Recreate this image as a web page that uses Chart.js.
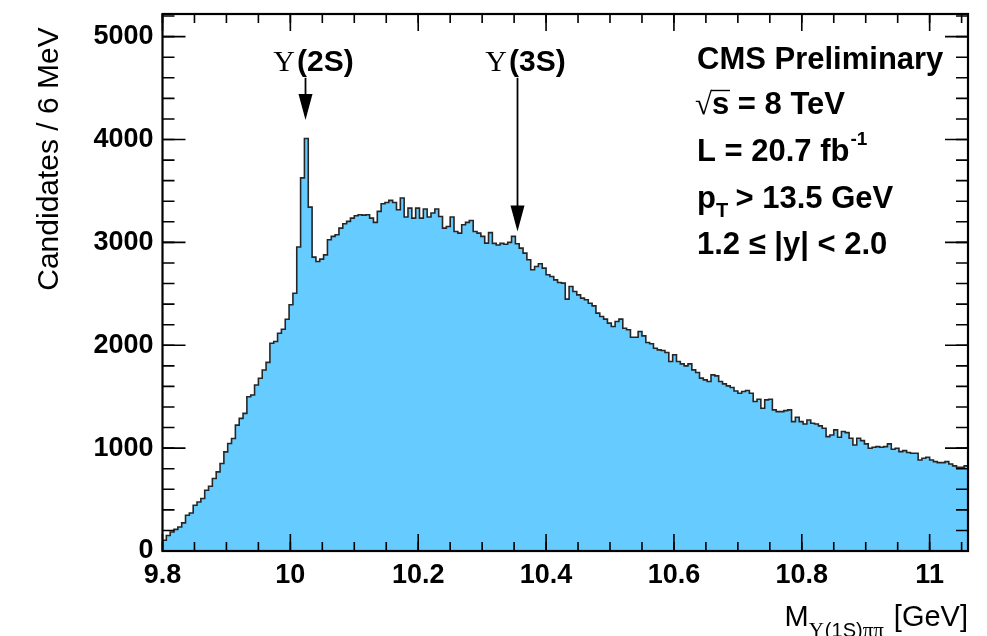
<!DOCTYPE html>
<html>
<head>
<meta charset="utf-8">
<title>Y(1S) pi pi invariant mass</title>
<script src="https://cdn.jsdelivr.net/npm/chart.js@4.4.1/dist/chart.umd.min.js"></script>
<style>
    html, body { margin: 0; padding: 0; background: #ffffff; }
    #wrap { width: 987px; height: 636px; }
</style>
</head>
<body>
<div id="wrap"><canvas id="massChart" width="987" height="636"></canvas></div>
<script>
// binning of the histogram (GeV)
const binLow = 9.8;
const binWidth = 0.006;
const xMax = 11.06;

// candidates per 6 MeV bin, starting at 9.8 GeV
const counts = [
    104, 150, 185, 210, 234, 273, 347, 370, 445, 477,
    510, 591, 630, 705, 769, 850, 964, 1045, 1094, 1224,
    1289, 1338, 1500, 1516, 1614, 1679, 1760, 1834, 2019, 2036,
    2117, 2156, 2253, 2393, 2506, 2955, 3627, 4010, 3343, 2857,
    2814, 2837, 2879, 3025, 3058, 3074, 3139, 3181, 3204, 3236,
    3259, 3268, 3265, 3268, 3236, 3194, 3301, 3375, 3388, 3408,
    3388, 3317, 3431, 3246, 3333, 3236, 3333, 3236, 3324, 3246,
    3285, 3324, 3252, 3139, 3155, 3246, 3106, 3090, 3171, 3194,
    3213, 3106, 3090, 3058, 2993, 3095, 2990, 2975, 2990, 2982,
    3000, 3058, 2987, 2944, 2896, 2831, 2734, 2766, 2792, 2750,
    2685, 2669, 2636, 2610, 2604, 2448, 2571, 2523, 2490, 2458,
    2442, 2409, 2383, 2312, 2280, 2254, 2215, 2182, 2231, 2254,
    2166, 2150, 2078, 2078, 2134, 2091, 2027, 2014, 1971, 1955,
    1949, 1929, 1842, 1907, 1842, 1819, 1800, 1819, 1761, 1735,
    1680, 1663, 1647, 1712, 1702, 1647, 1625, 1605, 1590, 1555,
    1534, 1550, 1560, 1534, 1453, 1475, 1388, 1469, 1475, 1372,
    1355, 1355, 1365, 1372, 1258, 1300, 1258, 1235, 1274, 1242,
    1235, 1216, 1193, 1112, 1128, 1177, 1106, 1161, 1151, 1096,
    1031, 1096, 1073, 1041, 999, 1008, 1015, 1008, 1015, 1041,
    989, 999, 966, 976, 957, 950, 950, 885, 901, 911,
    885, 869, 859, 859, 869, 846, 827, 814, 814, 827
];

const xTicks = [9.8, 10, 10.2, 10.4, 10.6, 10.8, 11];
const yTicks = [0, 1000, 2000, 3000, 4000, 5000];

// resonance markers: mass (GeV), arrow tail and tip (candidates)
const resonances = [
    { state: '(2S)', mass: 10.023, tail: 4600, tip: 4190 },
    { state: '(3S)', mass: 10.355, tail: 4600, tip: 3105 }
];

const infoLines = ['CMS Preliminary', 's = 8 TeV', 'L = 20.7 fb', 'p', '1.2 \u2264 |y| < 2.0'];

// step histogram: one point per lower bin edge plus the closing edge
const histPoints = counts.map((c, i) => ({ x: binLow + i * binWidth, y: c }));
histPoints.push({ x: binLow + counts.length * binWidth, y: counts[counts.length - 1] });

const SANS = '"Liberation Sans", Arial, Helvetica, sans-serif';
const SERIF = '"Liberation Serif", "Times New Roman", serif';

function drawTicks(ctx, a, scale, values, horizontal, len) {
    values.forEach(v => {
        const p = scale.getPixelForValue(v);
        ctx.beginPath();
        if (horizontal) {
            ctx.moveTo(p, a.bottom); ctx.lineTo(p, a.bottom - len);
            ctx.moveTo(p, a.top); ctx.lineTo(p, a.top + len);
        } else {
            ctx.moveTo(a.left, p); ctx.lineTo(a.left + len, p);
            ctx.moveTo(a.right, p); ctx.lineTo(a.right - len, p);
        }
        ctx.stroke();
    });
}

const framePlugin = {
    id: 'frame',
    afterDraw(chart) {
        const { ctx, chartArea: a, scales: { x, y } } = chart;
        ctx.save();
        ctx.strokeStyle = '#000';
        ctx.lineWidth = 1.6;

        // minor ticks every 0.05 GeV and 200 candidates
        const xMinor = [];
        for (let k = 0; binLow + k * 0.05 <= xMax + 1e-9; k++) xMinor.push(binLow + k * 0.05);
        const yMinor = [];
        for (let v = 0; v <= 5200; v += 200) yMinor.push(v);
        drawTicks(ctx, a, x, xMinor, true, 9);
        drawTicks(ctx, a, y, yMinor, false, 12);
        drawTicks(ctx, a, x, xTicks, true, 17);
        drawTicks(ctx, a, y, yTicks, false, 23);

        ctx.lineWidth = 2.2;
        ctx.strokeRect(a.left, a.top, a.width, a.height);

        // resonance arrows
        ctx.fillStyle = '#000';
        resonances.forEach(r => {
            const px = Math.round(x.getPixelForValue(r.mass)) + 0.5;
            const top = y.getPixelForValue(r.tail);
            const tip = y.getPixelForValue(r.tip);
            ctx.lineWidth = 1.8;
            ctx.beginPath();
            ctx.moveTo(px, top);
            ctx.lineTo(px, tip - 24);
            ctx.stroke();
            ctx.beginPath();
            ctx.moveTo(px - 7, tip - 26);
            ctx.lineTo(px + 7, tip - 26);
            ctx.lineTo(px, tip);
            ctx.closePath();
            ctx.fill();

            ctx.font = '30px ' + SERIF;
            const wU = ctx.measureText('\u03A5').width;
            ctx.font = 'bold 30px ' + SANS;
            const wS = ctx.measureText(r.state).width;
            const tx = px + 8 - (wU + wS + 2) / 2;
            ctx.textBaseline = 'alphabetic';
            ctx.textAlign = 'left';
            ctx.font = '30px ' + SERIF;
            ctx.fillText('\u03A5', tx, 71);
            ctx.font = 'bold 30px ' + SANS;
            ctx.fillText(r.state, tx + wU + 2, 71);
        });

        // info block
        ctx.font = 'bold 31px ' + SANS;
        ctx.textAlign = 'left';
        const lx = 697;
        ctx.fillText(infoLines[0], lx, 69);
        // sqrt(s)
        ctx.font = '31px ' + SERIF;
        ctx.fillText('\u221A', lx - 2, 114);
        ctx.font = 'bold 31px ' + SANS;
        ctx.fillText(infoLines[1], lx + 15, 114);
        ctx.beginPath();
        ctx.lineWidth = 1.4;
        ctx.moveTo(lx + 14, 90.5);
        ctx.lineTo(lx + 33, 90.5);
        ctx.stroke();
        // luminosity with superscript
        ctx.fillText(infoLines[2], lx, 161);
        let w = ctx.measureText(infoLines[2]).width;
        ctx.font = 'bold 19px ' + SANS;
        ctx.fillText('-1', lx + w + 1, 145);
        // pT cut
        ctx.font = 'bold 31px ' + SANS;
        ctx.fillText(infoLines[3], lx, 208);
        w = ctx.measureText(infoLines[3]).width;
        ctx.font = 'bold 20px ' + SANS;
        ctx.fillText('T', lx + w, 217);
        ctx.font = 'bold 31px ' + SANS;
        ctx.fillText(' > 13.5 GeV', lx + w + 11, 208);
        // rapidity range
        ctx.fillText(infoLines[4], lx, 254);

        // axis titles
        ctx.font = '30px ' + SANS;
        ctx.save();
        ctx.translate(58, 159);
        ctx.rotate(-Math.PI / 2);
        ctx.textAlign = 'center';
        ctx.fillText('Candidates / 6 MeV', 0, 0);
        ctx.restore();

        const right = a.right;
        ctx.textAlign = 'right';
        ctx.font = '29px ' + SANS;
        ctx.fillText('[GeV]', right, 626);
        let cx = right - ctx.measureText('[GeV]').width - 10;
        ctx.font = '21px ' + SERIF;
        ctx.fillText('\u03C0\u03C0', cx, 637);
        cx -= ctx.measureText('\u03C0\u03C0').width;
        ctx.font = '20px ' + SANS;
        ctx.fillText('(1S)', cx, 637);
        cx -= ctx.measureText('(1S)').width + 1;
        ctx.font = '21px ' + SERIF;
        ctx.fillText('\u03A5', cx, 637);
        cx -= ctx.measureText('\u03A5').width;
        ctx.font = '29px ' + SANS;
        ctx.fillText('M', cx, 626);

        ctx.restore();
    }
};

const chart = new Chart(document.getElementById('massChart'), {
    type: 'line',
    data: {
        datasets: [{
            label: 'Candidates',
            data: histPoints,
            stepped: 'before',
            borderColor: '#262626',
            borderWidth: 1.6,
            backgroundColor: '#66ccff',
            fill: 'origin',
            pointRadius: 0,
            tension: 0
        }]
    },
    options: {
        responsive: false,
        animation: false,
        layout: { padding: { left: 0, top: 14, right: 19, bottom: 0 } },
        plugins: {
            legend: { display: false },
            tooltip: { enabled: false }
        },
        scales: {
            x: {
                type: 'linear',
                min: binLow,
                max: xMax,
                grid: { display: false, drawTicks: false },
                border: { display: false },
                afterBuildTicks: scale => { scale.ticks = xTicks.map(v => ({ value: v })); },
                afterFit: scale => { scale.height = 85; },
                ticks: {
                    autoSkip: false,
                    maxRotation: 0,
                    padding: 8,
                    color: '#000',
                    font: { family: SANS, size: 27, weight: 'bold' },
                    callback: v => String(Math.round(v * 10) / 10)
                }
            },
            y: {
                min: 0,
                max: 5220,
                grid: { display: false, drawTicks: false },
                border: { display: false },
                afterBuildTicks: scale => { scale.ticks = yTicks.map(v => ({ value: v })); },
                afterFit: scale => { scale.width = 162.5; },
                ticks: {
                    padding: 9,
                    color: '#000',
                    // small line height keeps the top label from padding the plot area
                    font: { family: SANS, size: 27, weight: 'bold', lineHeight: 0.15 },
                    callback: v => String(v)
                }
            }
        }
    },
    plugins: [framePlugin]
});
</script>
</body>
</html>
